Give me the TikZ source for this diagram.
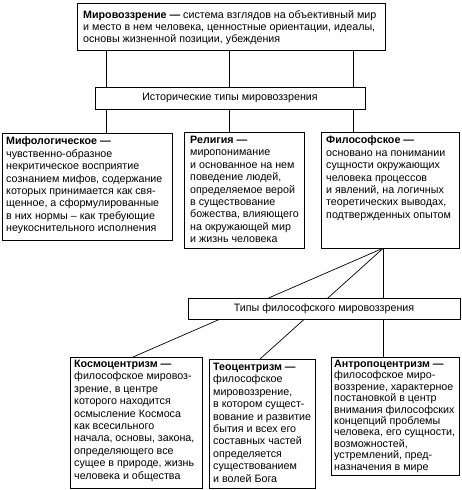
\documentclass[tikz,border=0pt]{standalone}
\usepackage{fontspec}
\setmainfont{Liberation Sans}
\usetikzlibrary{backgrounds}
\begin{document}
\begin{tikzpicture}[x=1pt,y=-1pt,
  fnt/.style={font=\fontsize{10.7}{12.4}\selectfont},
  frame/.style={draw, line width=0.8pt, fill=white, inner sep=0pt, outer sep=0pt, anchor=north west},
  txt/.style={fnt, inner sep=0pt, anchor=north west, align=left},
  conn/.style={line width=0.7pt}]
\useasboundingbox (0,0) rectangle (462,490);
% frames
\node[frame, minimum width=308, minimum height=47] (top) at (77,3) {};
\node[txt] (topt) at ([xshift=6pt,yshift=-7pt]top.north west) {\textbf{Мировоззрение —} система взглядов на объективный мир\\и место в нем человека, ценностные ориентации, идеалы,\\основы жизненной позиции, убеждения};
\node[frame, fnt, minimum width=270, minimum height=22] (hist) at (95,87) {Исторические типы мировоззрения};
\node[frame, minimum width=170, minimum height=107] (b1) at (2,133) {};
\node[txt] (b1t) at ([xshift=4pt,yshift=-4pt]b1.north west) {\textbf{Мифологическое —}\\чувственно-образное\\некритическое восприятие\\сознанием мифов, содержание\\которых принимается как свя-\\щенное, а сформулированные\\в них нормы – как требующие\\неукоснительного исполнения};
\node[frame, minimum width=120, minimum height=116] (b2) at (184,132) {};
\node[txt] (b2t) at ([xshift=6pt,yshift=-4pt]b2.north west) {\textbf{Религия —}\\миропонимание\\и основанное на нем\\поведение людей,\\определяемое верой\\в существование\\божества, влияющего\\на окружающей мир\\и жизнь человека};
\node[frame, minimum width=138, minimum height=116] (b3) at (321,132) {};
\node[txt] (b3t) at ([xshift=5pt,yshift=-4pt]b3.north west) {\textbf{Философское —}\\основано на понимании\\сущности окружающих\\человека процессов\\и явлений, на логичных\\теоретических выводах,\\подтвержденных опытом};
\node[frame, fnt, minimum width=272, minimum height=21] (types) at (188,298) {Типы философского мировоззрения};
\node[frame, minimum width=132, minimum height=131] (kos) at (70,357) {};
\node[txt] (kost) at ([xshift=4pt,yshift=-3pt]kos.north west) {\textbf{Космоцентризм —}\\философское мировоз-\\зрение, в центре\\которого находится\\осмысление Космоса\\как всесильного\\начала, основы, закона,\\определяющего все\\сущее в природе, жизнь\\человека и общества};
\node[frame, minimum width=106, minimum height=129] (teo) at (209,359) {};
\node[txt] (teot) at ([xshift=4pt,yshift=-4pt]teo.north west) {\textbf{Теоцентризм —}\\философское\\мировоззрение,\\в котором сущест-\\вование и развитие\\бытия и всех его\\составных частей\\определяется\\существованием\\и волей Бога};
\node[frame, minimum width=128, minimum height=118] (ant) at (331,357) {};
\node[txt, font=\fontsize{10.7}{11.4}\selectfont] (antt) at ([xshift=3pt,yshift=-3pt]ant.north west) {\textbf{Антропоцентризм —}\\философское миро-\\воззрение, характерное\\постановкой в центр\\внимания философских\\концепций проблемы\\человека, его сущности,\\возможностей,\\устремлений, пред-\\назначения в мире};
% named x positions
\coordinate (xa) at (106,0);
\coordinate (xb) at (229,0);
\coordinate (xc) at (353,0);
\coordinate (xf) at (383.5,0);
\coordinate (xk) at (133,0);
\coordinate (xt) at (260,0);
\begin{scope}[on background layer]
\draw[conn] (top.south -| xa) -- (b1.north -| xa);
\draw[conn] (top.south -| xb) -- (b2.north -| xb);
\draw[conn] (top.south -| xc) -- (b3.north -| xc);
\draw[conn] (b3.south -| xf) -- (kos.north -| xk);
\draw[conn] (b3.south -| xf) -- (teo.north -| xt);
\draw[conn] (b3.south -| xf) -- (ant.north -| xf);
\end{scope}
\end{tikzpicture}
\end{document}
